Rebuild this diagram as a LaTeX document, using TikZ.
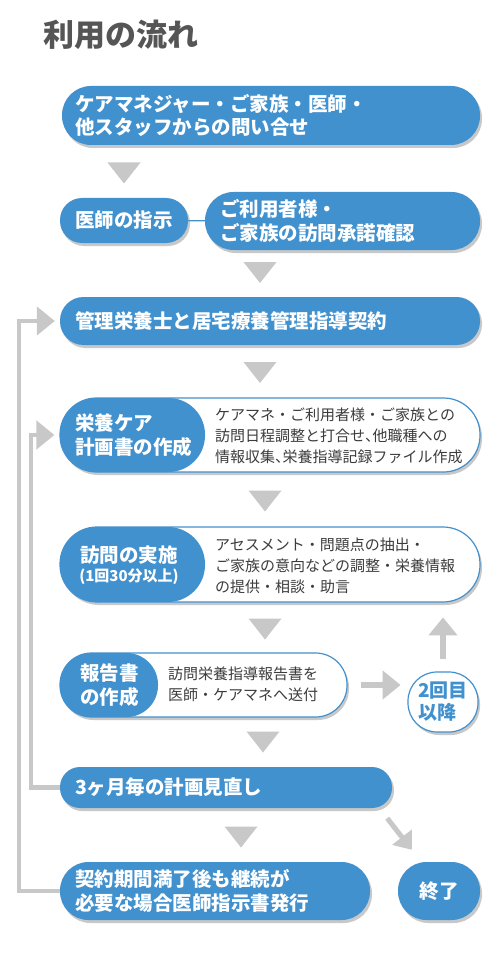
\documentclass[tikz,border=0pt]{standalone}
\usepackage{fontspec}
\usepackage{tikz}
\usetikzlibrary{arrows.meta,shadows}

\newfontfamily\jpfont{Noto Sans CJK JP}
\definecolor{flowblue}{RGB}{66,145,207}
\definecolor{flowgray}{RGB}{200,200,200}
\definecolor{notegray}{RGB}{60,60,60}
\definecolor{titlegray}{RGB}{85,85,85}
\newcommand{\halfcomma}{{\addfontfeature{RawFeature=+halt}、}}

\tikzset{
  pill/.style={rectangle, rounded corners=#1, fill=flowblue, text=white, inner sep=0pt,
    align=left, font=\jpfont\bfseries\fontsize{19.5}{23.5}\selectfont,
    drop shadow={shadow xshift=2pt, shadow yshift=-3pt, opacity=0.3, fill=black!70}},
  halfpill/.style 2 args={pill=#1, fill=white, draw=flowblue, line width=1.2pt,
    path picture={\fill[flowblue] (path picture bounding box.north west) rectangle ([xshift=#2]path picture bounding box.south west);}},
  headtext/.style={text=white, inner sep=0pt, align=left, font=\jpfont\bfseries\fontsize{19.5}{23.5}\selectfont},
  notetext/.style={text=notegray, inner sep=0pt, align=left, font=\jpfont\fontsize{15}{21}\selectfont},
  back/.style={flowgray, line width=4.5pt, -{Triangle[width=28pt,length=18pt]}},
  fat/.style={flowgray, line width=6.5pt, -{Triangle[width=28pt,length=18pt]}},
  flowtri/.pic={\fill[flowgray] (-16.5pt,10.5pt) -- (16.5pt,10.5pt) -- (0pt,-10.5pt) -- cycle;}
}

\begin{document}
\begin{tikzpicture}[x=1pt, y=-1pt]
\fill[white] (0,0) rectangle (500,968);
\path[use as bounding box] (0,0) rectangle (500,968);

% Title
\node[anchor=west, inner sep=0pt, text=titlegray, font=\jpfont\bfseries\fontsize{31}{31}\selectfont] (title) at (43,35) {利用の流れ};

% Steps
\node[pill=29pt, minimum width=418pt, minimum height=59pt, text width=392pt] (ask) at (271,115.5) {ケアマネジャー・ご家族・医師・\\他スタッフからの問い合せ};
\node[pill=22pt, minimum width=128pt, minimum height=45pt, align=center] (order) at (124,220.5) {医師の指示};
\node[pill=28.5pt, minimum width=275pt, minimum height=58pt, text width=245pt] (consent) at (342.5,221) {ご利用者様・\\ご家族の訪問承諾確認};
\node[pill=23.5pt, minimum width=420pt, minimum height=48pt, text width=390pt] (contract) at (270,321) {管理栄養士と居宅療養管理指導契約};

\node[halfpill={36.5pt}{145pt}, minimum width=420pt, minimum height=74pt] (plan) at (270,435) {};
\node[headtext, anchor=west] (planhead) at (75,435) {栄養ケア\\計画書の作成};
\node[notetext, anchor=west] (plannote) at (215,436) {ケアマネ・ご利用者様・ご家族との\\訪問日程調整と打合せ\halfcomma 他職種への\\情報収集\halfcomma 栄養指導記録ファイル作成};

\node[halfpill={37pt}{145pt}, minimum width=420pt, minimum height=75pt] (visit) at (270,564.5) {};
\node[headtext, align=center] (visithead) at (129,565) {訪問の実施\\[-4pt]\fontsize{15}{19}\selectfont(1回30分以上)};
\node[notetext, anchor=west] (visitnote) at (215,566) {アセスメント・問題点の抽出・\\ご家族の意向などの調整・栄養情報\\の提供・相談・助言};

\node[halfpill={31.5pt}{98pt}, minimum width=287pt, minimum height=64pt] (report) at (203.5,685) {};
\node[headtext, anchor=west] (reporthead) at (80,685) {報告書\\の作成};
\node[notetext, anchor=west] (reportnote) at (168,684) {訪問栄養指導報告書を\\医師・ケアマネへ送付};

\node[pill=29pt, fill=white, draw=flowblue, line width=1.2pt, text=flowblue, font=\jpfont\bfseries\fontsize{19}{22}\selectfont, minimum width=70pt, minimum height=60pt, text width=50pt] (again) at (443,702) {2回目\\以降};

\node[pill=20pt, minimum width=332pt, minimum height=41pt, text width=302pt] (review) at (226,787.5) {3ヶ月毎の計画見直し};
\node[pill=28.5pt, minimum width=310pt, minimum height=58pt, text width=280pt] (renew) at (215,891) {契約期間満了後も継続が\\必要な場合医師指示書発行};
\node[pill=28.5pt, minimum width=82pt, minimum height=58pt, align=center] (finish) at (439,891) {終了};

% Flow marks
\draw[flowblue, line width=1.2pt] (order) -- (consent);
\pic at (124,173) {flowtri};
\pic at (260,272.5) {flowtri};
\pic at (260,372.5) {flowtri};
\pic at (265,501) {flowtri};
\pic at (265,629) {flowtri};
\pic at (263,742) {flowtri};
\pic at (241,837) {flowtri};

% Loops back
\draw[back] (renew.west) -- ++(-41,0) |- ([xshift=-5pt]contract.west);
\draw[back] (review.west) -- ++(-29,0) |- ([xshift=-5pt]plan.west);

% Side arrows
\draw[fat] ([xshift=13pt]report.east) -- ([xshift=53pt]report.east);
\draw[fat] ([yshift=12pt]again.north) -- ([yshift=54pt]again.north);
\draw[fat, line width=5pt, -{Triangle[width=24pt,length=16pt]}] ([xshift=-5pt,yshift=-10pt]review.south east) -- ([xshift=14pt,yshift=12pt]finish.north west);
\end{tikzpicture}
\end{document}
